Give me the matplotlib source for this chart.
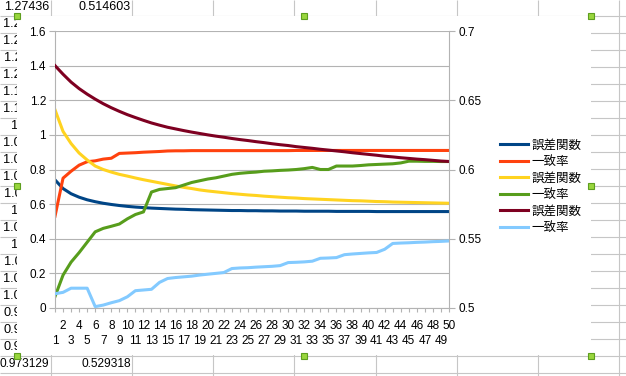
import numpy as np
import matplotlib
matplotlib.use("Agg")
import matplotlib.pyplot as plt
from matplotlib.patches import Rectangle

plt.rcParams['font.family'] = ['Liberation Sans', 'Noto Sans CJK JP', 'DejaVu Sans']

# categories 1..50
cats = list(range(1, 51))

# primary axis series
err_blue = [0.740, 0.690, 0.660, 0.640, 0.625, 0.614, 0.605, 0.598, 0.592, 0.587,
            0.583, 0.580, 0.577, 0.575, 0.573, 0.571, 0.570, 0.568, 0.567, 0.566,
            0.565, 0.564, 0.563, 0.563, 0.562, 0.562, 0.561, 0.561, 0.560, 0.560,
            0.560, 0.559, 0.559, 0.559, 0.559, 0.558, 0.558, 0.558, 0.558, 0.558,
            0.557, 0.557, 0.557, 0.557, 0.557, 0.557, 0.557, 0.557, 0.557, 0.557]
acc_orange = [0.530, 0.750, 0.790, 0.825, 0.845, 0.850, 0.860, 0.865, 0.893, 0.895,
              0.897, 0.900, 0.902, 0.904, 0.907, 0.908, 0.908, 0.909, 0.909, 0.909,
              0.909, 0.909, 0.909, 0.909, 0.909, 0.909, 0.909, 0.909, 0.909, 0.909,
              0.910, 0.910, 0.910, 0.910, 0.910, 0.910, 0.910, 0.910, 0.910, 0.910,
              0.910, 0.910, 0.910, 0.910, 0.910, 0.910, 0.910, 0.910, 0.910, 0.910]
err_yellow = [1.145, 1.020, 0.950, 0.895, 0.855, 0.820, 0.800, 0.785, 0.772, 0.762,
              0.751, 0.741, 0.732, 0.723, 0.714, 0.705, 0.697, 0.690, 0.682, 0.676,
              0.671, 0.666, 0.661, 0.657, 0.653, 0.650, 0.646, 0.643, 0.640, 0.637,
              0.635, 0.632, 0.630, 0.628, 0.626, 0.624, 0.622, 0.620, 0.619, 0.617,
              0.615, 0.614, 0.612, 0.611, 0.610, 0.609, 0.608, 0.607, 0.606, 0.605]
acc_green = [0.066, 0.190, 0.265, 0.320, 0.380, 0.440, 0.460, 0.472, 0.485, 0.515,
             0.540, 0.555, 0.670, 0.685, 0.690, 0.695, 0.710, 0.725, 0.735, 0.745,
             0.752, 0.762, 0.772, 0.778, 0.782, 0.785, 0.790, 0.792, 0.795, 0.797,
             0.800, 0.805, 0.812, 0.800, 0.800, 0.820, 0.820, 0.820, 0.823, 0.827,
             0.829, 0.831, 0.833, 0.838, 0.848, 0.848, 0.847, 0.847, 0.846, 0.846]

# secondary axis series
err_maroon = [0.6750, 0.6688, 0.6631, 0.6584, 0.6544, 0.6508, 0.6475, 0.6446, 0.6420, 0.6396,
              0.6375, 0.6355, 0.6336, 0.6320, 0.6305, 0.6293, 0.6281, 0.6270, 0.6260, 0.6250,
              0.6241, 0.6233, 0.6224, 0.6216, 0.6209, 0.6201, 0.6194, 0.6186, 0.6179, 0.6173,
              0.6165, 0.6159, 0.6153, 0.6146, 0.6140, 0.6134, 0.6128, 0.6121, 0.6115, 0.6109,
              0.6103, 0.6096, 0.6091, 0.6085, 0.6080, 0.6075, 0.6071, 0.6066, 0.6061, 0.6058]
acc_lightblue = [0.5103, 0.5113, 0.5143, 0.5143, 0.5143, 0.5010, 0.5021, 0.5038, 0.5053, 0.5081,
                 0.5125, 0.5130, 0.5135, 0.5185, 0.5213, 0.5220, 0.5225, 0.5230, 0.5238, 0.5244,
                 0.5250, 0.5256, 0.5285, 0.5289, 0.5291, 0.5295, 0.5298, 0.5301, 0.5306, 0.5328,
                 0.5330, 0.5333, 0.5338, 0.5359, 0.5361, 0.5364, 0.5385, 0.5390, 0.5394, 0.5398,
                 0.5401, 0.5424, 0.5466, 0.5469, 0.5471, 0.5474, 0.5476, 0.5479, 0.5481, 0.5484]

labels = ['誤差関数', '一致率', '誤差関数', '一致率', '誤差関数', '一致率']
colors = ['#004586', '#ff420e', '#ffd320', '#579d1c', '#7e0021', '#83caff']

# spreadsheet cells behind the chart
left_cells = ['1.25938', '1.24625', '1.23117', '1.21482', '1.19796', '1.18103', '1.1643',
              '1.08795', '1.07421', '1.06102', '1.04838', '1.0363', '1.02477', '1.0138',
              '1.00336', '1.00347', '1.00128', '0.99136', '0.98403', '0.98012']
top_cells = ['1.27436', '0.514603']
bottom_cells = ['0.973129', '0.529318']

fig = plt.figure(figsize=(6.26, 3.76), dpi=100)
fig.patch.set_facecolor('white')

# background sheet (pixel coordinates)
bg = fig.add_axes([0, 0, 1, 1], zorder=-5)
bg.set_xlim(0, 626)
bg.set_ylim(376, 0)
bg.axis('off')
grid_c = '#c6c6c6'
row_y = 15.7 + 17 * np.arange(-1, 23)
col_x = 50.7 + 81.2 * np.arange(0, 8)
bg.hlines(row_y, 0, 626, color=grid_c, lw=0.8, zorder=1)
bg.vlines(col_x, 0, 376, color=grid_c, lw=0.8, zorder=1)
for j, s in enumerate(top_cells):
    bg.text(49.5 + 81.2 * j, 7.4, s, ha='right', va='center', fontsize=9, zorder=2)
for j, s in enumerate(bottom_cells):
    bg.text(49.5 + 81.2 * j, 364.4, s, ha='right', va='center', fontsize=8.6, zorder=2)

# left column: cells are hidden by the chart, only their first characters show
renderer = fig.canvas.get_renderer()
for i, s in enumerate(left_cells):
    t = bg.text(49.5, 24.2 + 17 * i, s, ha='right', va='center', fontsize=9.2, zorder=2)
    x0 = bg.transData.inverted().transform(t.get_window_extent(renderer))[0][0]
    t.remove()
    vis = bg.text(x0, 24.2 + 17 * i, s[:3], ha='left', va='center', fontsize=9.2, zorder=2)
    clip = Rectangle((0, 16), 17, 340, transform=bg.transData)
    vis.set_clip_path(clip)

bg.add_patch(Rectangle((17, 16.3), 574, 338.8, facecolor='white', edgecolor='none', zorder=3))
for hx in [17, 304, 591]:
    for hy in [15.7, 186, 355.7]:
        if hx == 304 and hy == 186:
            continue
        bg.add_patch(Rectangle((hx - 3, hy - 3), 6, 6, facecolor='#99d63d',
                               edgecolor='#5e9e1f', lw=0.8, zorder=6))

# chart
ax = fig.add_axes([55 / 626, (376 - 308) / 376, 394 / 626, 277 / 376], zorder=1)
ax2 = ax.twinx()

handles = []
for ys, c in zip([err_blue, acc_orange, err_yellow, acc_green], colors[:4]):
    h, = ax.plot(cats, ys, color=c, lw=2.2, solid_joinstyle='round')
    handles.append(h)
for ys, c in zip([err_maroon, acc_lightblue], colors[4:]):
    h, = ax2.plot(cats, ys, color=c, lw=2.2, solid_joinstyle='round')
    handles.append(h)

ax.set_xlim(1, 50)
ax.set_ylim(0, 1.6)
ax2.set_ylim(0.5, 0.7)

axis_c = '#b3b3b3'
ax.set_yticks(np.arange(0, 1.61, 0.2))
ax.set_yticklabels([f'{round(v, 2):g}' for v in np.arange(0, 1.61, 0.2)])
ax2.set_yticks(np.arange(0.5, 0.701, 0.05))
ax2.set_yticklabels([f'{round(v, 2):g}' for v in np.arange(0.5, 0.701, 0.05)])

# staggered category labels: odd ones on the lower row, even ones on the upper row
odd = [c for c in cats if c % 2 == 1]
even = [c for c in cats if c % 2 == 0]
ax.set_xticks(odd)
ax.set_xticklabels([str(c) for c in odd])
ax.set_xticks(even, minor=True)
ax.set_xticklabels([str(c) for c in even], minor=True)

ax.yaxis.grid(True, color=axis_c, lw=0.8)
ax.set_axisbelow(True)
ax.tick_params(axis='x', which='major', length=3, width=0.8, color=axis_c, pad=16.3, labelsize=8.5)
ax.tick_params(axis='x', which='minor', length=3, width=0.8, color=axis_c, pad=5.5, labelsize=8.5)
ax.tick_params(axis='y', length=4.5, width=0.8, color=axis_c, pad=2, labelsize=8.5)
ax2.tick_params(axis='y', length=4.5, width=0.8, color=axis_c, pad=2, labelsize=8.5)

for sp in ['top', 'right']:
    ax.spines[sp].set_visible(False)
for sp in ['top', 'left', 'bottom']:
    ax2.spines[sp].set_visible(False)
for sp in [ax.spines['left'], ax.spines['bottom'], ax2.spines['right']]:
    sp.set_color(axis_c)
    sp.set_linewidth(0.8)

ax2.legend(handles, labels, loc='upper left', bbox_to_anchor=(494 / 626, 1 - 133 / 376),
           bbox_transform=fig.transFigure, frameon=False, fontsize=9,
           handlelength=2.2, handletextpad=0.3, labelspacing=0.37, borderpad=0)

fig.savefig('out.png', dpi=100)
